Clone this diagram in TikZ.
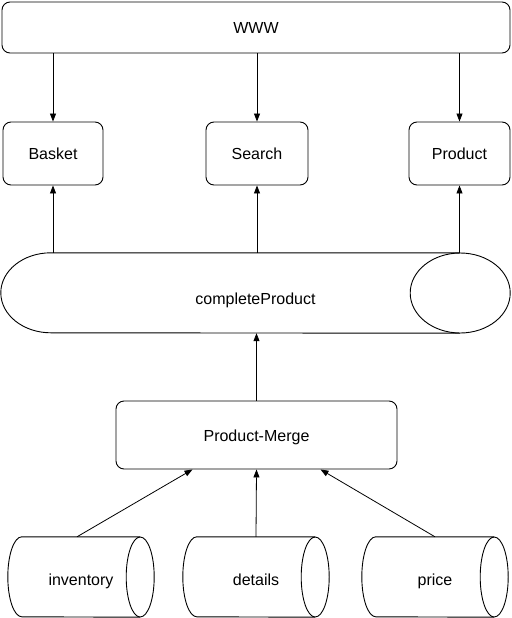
\documentclass[tikz,border=0pt]{standalone}
\usepackage{fontspec}
\setmainfont{Liberation Sans}
\usetikzlibrary{arrows.meta,calc}

% drum outline round a node: #1 node, #2 x radius of the ends
\newcommand\drumshape[2]{%
    \draw [line width=0.9pt] ($(#1.north east)+(-#2,0)$) -- ($(#1.north west)+(#2,0)$)
        arc [start angle=-90,end angle=-270,x radius=#2,y radius=40]
        -- ($(#1.south east)+(-#2,0)$);
    \draw [line width=0.9pt] ($(#1.east)+(-#2,0)$) ellipse [x radius=#2,y radius=40];
}

\begin{document}
\begin{tikzpicture}[x=1pt,y=-1pt,
    box/.style={draw,rounded corners=8pt,line width=0.9pt,inner sep=0pt},
    store/.style={inner sep=0pt,minimum width=146pt,minimum height=80pt,text height=16pt,text depth=0pt},
    arr/.style={-{Triangle[length=8pt,width=6pt]},line width=0.8pt}]
    \tikzstyle{every node}+=[font=\fontsize{16}{19}\selectfont,text height=12pt,text depth=0pt]
    \useasboundingbox (0,0) rectangle (511,618);
    \node [box,minimum width=508pt,minimum height=51pt] (www) at (256,27.5) {WWW};
    \node [box,minimum width=100pt,minimum height=63pt] (basket) at (53,153.5) {Basket};
    \node [box,minimum width=102pt,minimum height=63pt] (search) at (257,153.5) {Search};
    \node [box,minimum width=101pt,minimum height=63pt] (product) at (459.5,153.5) {Product};
    \node [store,minimum width=509pt,text height=22pt] (complete) at (255.5,293) {completeProduct};
    \drumshape{complete}{50}
    \node [box,minimum width=281pt,minimum height=68pt] (merge) at (256.5,435) {Product-Merge};
    \node [store] (inventory) at (81,577) {inventory};
    \node [store] (details) at (256,577) {details};
    \node [store] (price) at (435,577) {price};
    \drumshape{inventory}{14}
    \drumshape{details}{14}
    \drumshape{price}{14}
    \draw [arr] (www.south -| basket.north) -- (basket.north);
    \draw [arr] (www.south -| search.north) -- (search.north);
    \draw [arr] (www.south -| product.north) -- (product.north);
    \draw [arr] (complete.north -| basket.south) -- (basket.south);
    \draw [arr] (complete.north -| search.south) -- (search.south);
    \draw [arr] (complete.north -| product.south) -- (product.south);
    \draw [arr] (merge.north) -- (merge.north |- complete.south);
    \draw [arr] ($(inventory.north)+(-4,0)$) -- ($(merge.south)+(-64,0)$);
    \draw [arr] (details.north) -- (merge.south);
    \draw [arr] (price.north) -- ($(merge.south)+(64,0)$);
\end{tikzpicture}
\end{document}
